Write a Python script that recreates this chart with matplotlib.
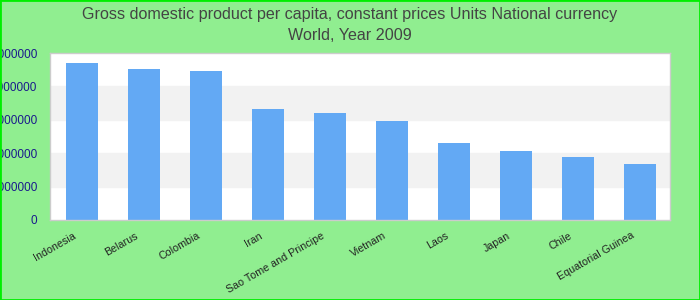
import matplotlib
matplotlib.use("Agg")
import matplotlib.pyplot as plt
import matplotlib.transforms as mtransforms
from matplotlib.patches import Rectangle

countries = ["Indonesia", "Belarus", "Colombia", "Iran", "Sao Tome and Principe",
             "Vietnam", "Laos", "Japan", "Chile", "Equatorial Guinea"]
values = [4700000, 4520000, 4460000, 3320000, 3200000, 2960000, 2310000, 2070000, 1890000, 1680000]
yticks = [0, 1000000, 2000000, 3000000, 4000000, 5000000]

plt.rcParams['font.family'] = ['Liberation Sans', 'DejaVu Sans']

fig = plt.figure(figsize=(7, 3), dpi=100, facecolor="#90ee90")
ax = fig.add_axes([50/700, 1-220/300, 620/700, 167/300])
ax.set_facecolor("white")

for i in range(len(yticks) - 1):
    if i % 2 == 1:
        ax.axhspan(yticks[i], yticks[i+1], color="#f2f2f2", zorder=0)

x = list(range(len(countries)))
ax.bar(x, values, width=0.516, color="#63a9f4", zorder=2)
ax.set_xlim(-0.516, len(countries) - 0.516)
ax.set_ylim(0, 5000000)
ax.set_yticks(yticks)
ax.set_yticklabels([str(v) for v in yticks], color="#1a1a8c", fontsize=8.5)
ax.set_xticks(x)
ax.set_xticklabels(countries, rotation=30, ha="right", rotation_mode="anchor", fontsize=7.7, color="#222222")
ax.tick_params(length=0, pad=6)
ax.tick_params(axis="y", pad=9)
offset = mtransforms.ScaledTranslation(-9/100, -2/100, fig.dpi_scale_trans)
for lbl in ax.get_xticklabels():
    lbl.set_transform(lbl.get_transform() + offset)
for s in ax.spines.values():
    s.set_color("#cccccc")
    s.set_linewidth(1)

fig.text(0.5, 1 - 14/300, "Gross domestic product per capita, constant prices Units National currency",
         ha="center", va="center", fontsize=11.6, color="#444444")
fig.text(0.5, 1 - 36/300, "World, Year 2009", ha="center", va="center", fontsize=11.6, color="#444444")

fig.patches.append(Rectangle((0, 0), 1, 1, transform=fig.transFigure, fill=False,
                             edgecolor="#00ee00", linewidth=2, zorder=10))

fig.savefig("out.png", dpi=100, facecolor=fig.get_facecolor())
